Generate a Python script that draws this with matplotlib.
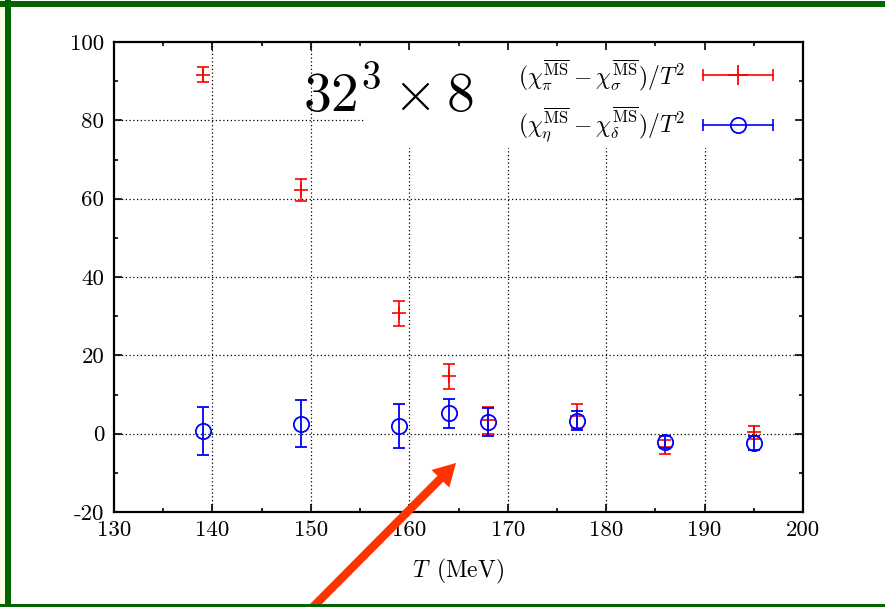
import matplotlib
matplotlib.use('Agg')
import matplotlib.pyplot as plt
from matplotlib.patches import Rectangle, FancyArrowPatch
from matplotlib.lines import Line2D

# temperatures (MeV)
T = [139, 149, 159, 164, 168, 177, 186, 195]

# (chi_pi - chi_sigma)/T^2
pi_sigma = [91.7, 62.3, 30.8, 14.6, 3.4, 4.5, -3.3, 0.3]
pi_sigma_err = [1.9, 2.8, 3.2, 3.2, 3.5, 3.0, 1.8, 1.6]

# (chi_eta - chi_delta)/T^2
eta_delta = [0.6, 2.5, 1.9, 5.2, 2.9, 3.3, -2.1, -2.4]
eta_delta_err = [6.1, 6.0, 5.6, 3.7, 3.6, 2.4, 1.6, 1.7]

xticks = [130, 140, 150, 160, 170, 180, 190, 200]
yticks = [-20, 0, 20, 40, 60, 80, 100]

label_red = r'$(\chi_\pi^{\overline{\rm MS}} - \chi_\sigma^{\overline{\rm MS}})/T^2$'
label_blue = r'$(\chi_\eta^{\overline{\rm MS}} - \chi_\delta^{\overline{\rm MS}})/T^2$'

plt.rcParams['font.family'] = 'serif'
plt.rcParams['font.serif'] = ['cmr10']
plt.rcParams['mathtext.fontset'] = 'cm'
plt.rcParams['axes.unicode_minus'] = False
plt.rcParams['axes.formatter.use_mathtext'] = False

W, H = 885, 607
fig = plt.figure(figsize=(W / 100, H / 100), dpi=100)
ax = fig.add_axes([114 / W, 1 - 512 / H, 689 / W, 470 / H])

# dotted grid (under the key box)
for x in xticks[1:-1]:
    ax.axvline(x, color='k', ls=(0, (1, 2)), lw=0.9, zorder=0.5)
for y in yticks[1:-1]:
    ax.axhline(y, color='k', ls=(0, (1, 2)), lw=0.9, zorder=0.5)

# white key area hiding the grid
ax.add_patch(Rectangle((155.5, 73), 44.5, 27, facecolor='white',
                       edgecolor='none', zorder=0.8))

ax.errorbar(T, pi_sigma, yerr=pi_sigma_err, fmt='+', color='red',
            markersize=10, mew=1.2, elinewidth=1.2, capsize=4, capthick=1.2,
            zorder=3)
ax.errorbar(T, eta_delta, yerr=eta_delta_err, fmt='o', color='blue',
            mfc='none', markersize=11, mew=1.3, elinewidth=1.3, capsize=4.5,
            capthick=1.3, zorder=4)

ax.set_xlim(130, 200)
ax.set_ylim(-20, 100)
ax.set_xticks(xticks)
ax.set_yticks(yticks)
ax.set_xticklabels([str(v) for v in xticks])
ax.set_yticklabels([str(v) for v in yticks])
ax.set_xticks(range(135, 200, 10), minor=True)
ax.set_yticks(range(-10, 100, 20), minor=True)
ax.tick_params(which='both', direction='in', top=True, right=True,
               labelsize=16.5, width=1.2)
ax.tick_params(which='major', length=6)
ax.tick_params(axis='x', which='major', pad=6)
ax.tick_params(axis='y', which='major', pad=7)
ax.tick_params(which='minor', length=3)
for s in ax.spines.values():
    s.set_linewidth(1.6)

ax.set_xlabel(r'$T\enspace(\mathrm{MeV})$', fontsize=17, labelpad=12)

ax.text(0.399, 0.851, r'$32^3 \times 8$', transform=ax.transAxes,
        fontsize=40, ha='center', va='baseline')

# key
for yk, lab, col, mk in [(0.930, label_red, 'red', '+'),
                         (0.823, label_blue, 'blue', 'o')]:
    ax.text(0.829, yk, lab, transform=ax.transAxes, fontsize=17,
            ha='right', va='center')
    ax.add_line(Line2D([0.855, 0.956], [yk, yk], transform=ax.transAxes,
                       color=col, lw=1.2, marker='|', markevery=[0, 1],
                       markersize=8, mew=1.2, clip_on=False))
    ax.add_line(Line2D([0.906], [yk], transform=ax.transAxes, color=col,
                       marker=mk, mfc='none',
                       markersize=11 if mk == 'o' else 14, mew=1.3,
                       clip_on=False))

# red arrow
fig.add_artist(FancyArrowPatch(
    (308 / W, 1 - 612 / H), (458 / W, 1 - 461 / H),
    transform=fig.transFigure,
    arrowstyle='simple,head_length=16,head_width=18,tail_width=6',
    mutation_scale=1, color='#ff3300', lw=0, zorder=5))

# green frame
green = '#006400'
fig.add_artist(Rectangle((0, 0), 5 / W, 1, transform=fig.transFigure,
                         facecolor='#fffde0', edgecolor='none', zorder=6))
fig.add_artist(Rectangle((5 / W, 0), 6 / W, 1, transform=fig.transFigure,
                         facecolor=green, edgecolor='none', zorder=6))
fig.add_artist(Rectangle((0, 1 - 7 / H), 1, 6 / H, transform=fig.transFigure,
                         facecolor=green, edgecolor='none', zorder=6))
fig.add_artist(Rectangle((0, 0), 1, 3 / H, transform=fig.transFigure,
                         facecolor=green, edgecolor='none', zorder=6))

fig.savefig('out.png', dpi=100)
